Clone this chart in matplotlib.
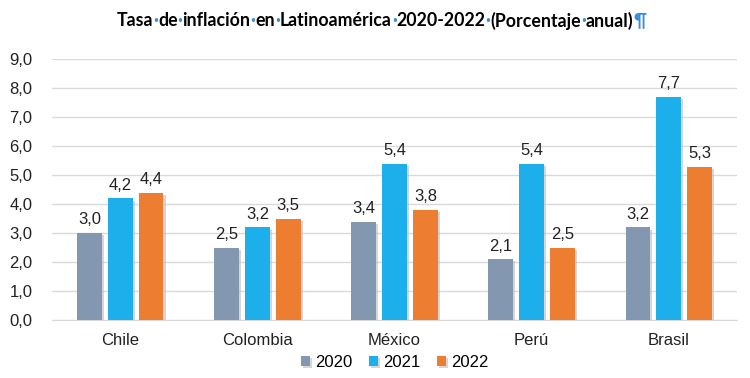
import numpy as np
import matplotlib
matplotlib.use('Agg')
import matplotlib.pyplot as plt
import matplotlib.patheffects as pe

paises = ['Chile', 'Colombia', 'México', 'Perú', 'Brasil']
anios = ['2020', '2021', '2022']
v2020 = [3.0, 2.5, 3.4, 2.1, 3.2]
v2021 = [4.2, 3.2, 5.4, 5.4, 7.7]
v2022 = [4.4, 3.5, 3.8, 2.5, 5.3]
colores = ['#8497B0', '#1CAFEC', '#ED7D31']

plt.rcParams['font.family'] = 'Liberation Sans'
plt.rcParams['font.sans-serif'] = ['Liberation Sans']

fig = plt.figure(figsize=(7.5, 3.78), dpi=100)
ax = fig.add_axes([0.069, 0.153, 0.914, 0.69])

x = np.arange(len(paises))
w = 0.18
paso = 0.225
sombra = [pe.SimplePatchShadow(offset=(1.5, -1.5), shadow_rgbFace='#bbbbbb', alpha=0.6), pe.Normal()]
for i, (vals, anio, col) in enumerate(zip([v2020, v2021, v2022], anios, colores)):
    barras = ax.bar(x + (i - 1) * paso, vals, w, color=col, label=anio, zorder=3)
    for b in barras:
        b.set_path_effects(sombra)
    for xi, v in zip(x + (i - 1) * paso, vals):
        ax.text(xi, v + 0.2, f'{v:.1f}'.replace('.', ','), ha='center', va='bottom',
                fontsize=12, color='#222222', zorder=4)

ax.set_xlim(-0.5, 4.5)
ax.set_ylim(0, 9)
ax.set_yticks(np.arange(0, 10, 1))
ax.set_yticklabels([f'{t:.1f}'.replace('.', ',') for t in range(10)], fontsize=12, color='#222222')
ax.set_xticks(x)
ax.set_xticklabels(paises, fontsize=12, color='#222222')
ax.grid(axis='y', color='#D9D9D9', linewidth=1, zorder=0)
for s in ['top', 'right', 'left']:
    ax.spines[s].set_visible(False)
ax.spines['bottom'].set_color('#D9D9D9')
ax.tick_params(length=0)
ax.tick_params(axis='x', pad=9)
ax.tick_params(axis='y', pad=14)

ax.legend(loc='upper center', bbox_to_anchor=(0.5, -0.075), ncol=3, frameon=False,
          fontsize=12, handlelength=0.55, handleheight=0.55, handletextpad=0.3,
          columnspacing=1.0)

# titulo con marcas de formato en azul
piezas = []
palabras = ['Tasa', 'de', 'inflación', 'en', 'Latinoamérica', '2020-2022', '(Porcentaje', 'anual)']
for k, p in enumerate(palabras):
    piezas.append((p, '#000000'))
    if k < len(palabras) - 1:
        piezas.append(('·', '#3A8FD8'))
piezas.append(('¶', '#3A8FD8'))

estilo = dict(fontsize=12.8, fontweight='bold', family=['Lato', 'DejaVu Sans'])
textos = []
for txt, col in piezas:
    t = fig.text(0, 0.945, txt, color=col, va='center', ha='left', **estilo)
    textos.append(t)
fig.canvas.draw()
r = fig.canvas.get_renderer()
anchos = [t.get_window_extent(r).width for t in textos]
total = sum(anchos)
x0 = (fig.bbox.width * 0.509 - total / 2)
for t, a in zip(textos, anchos):
    t.set_x(x0 / fig.bbox.width)
    x0 += a

fig.savefig('out.png', dpi=100)
